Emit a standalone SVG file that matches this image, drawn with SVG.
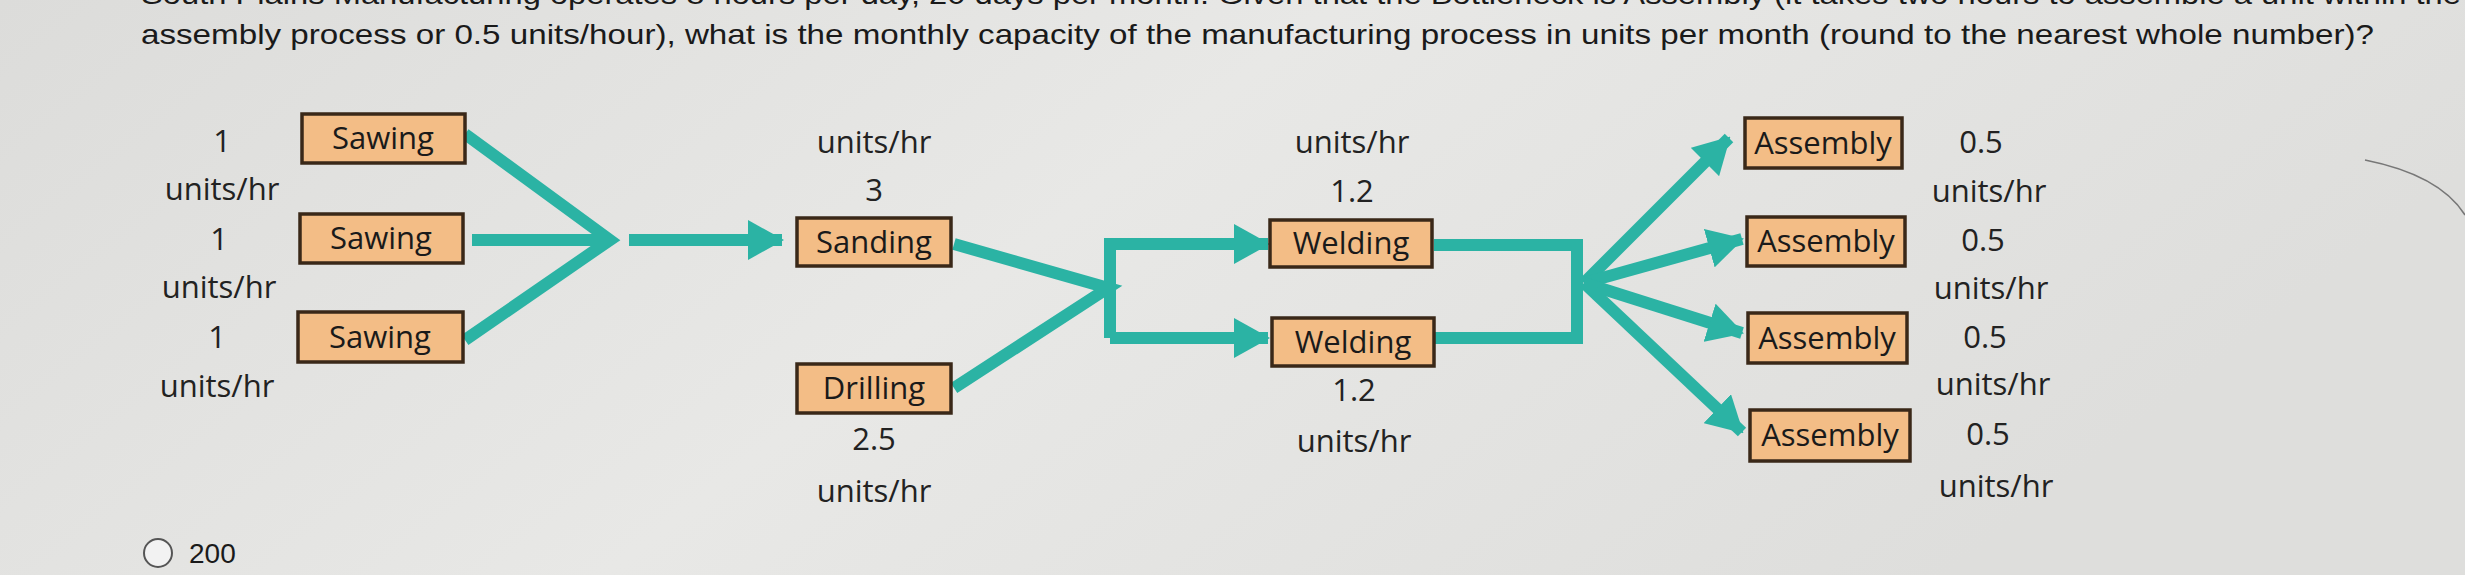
<svg xmlns="http://www.w3.org/2000/svg" width="2465" height="575" viewBox="0 0 2465 575">
<defs>
<linearGradient id="bg" x1="0" y1="0" x2="1" y2="0.3">
<stop offset="0" stop-color="#dcdcda"/><stop offset="0.5" stop-color="#e8e8e6"/><stop offset="1" stop-color="#dededc"/>
</linearGradient>
<marker id="ah" markerUnits="userSpaceOnUse" markerWidth="36" markerHeight="40" refX="34" refY="20" orient="auto">
<path d="M0,0 L36,20 L0,40 Z" fill="#2bb3a4"/>
</marker>
<style>
.t{font-family:"Open Sans","Noto Sans",sans-serif;font-size:31px;font-weight:500;fill:#222;text-anchor:middle}
.q{font-family:"Liberation Sans",Arial,sans-serif;font-size:28px;fill:#1a1a1a}
.b{fill:#f3bd86;stroke:#3a2818;stroke-width:3.5}
.bt{font-family:"Open Sans","Noto Sans",sans-serif;font-size:31px;font-weight:500;fill:#1a1a1a;text-anchor:middle}
.c{fill:none;stroke:#2bb3a4;stroke-width:12}
</style>
</defs>
<rect width="2465" height="575" fill="url(#bg)"/>
<text class="q" x="141" y="4" textLength="2320" lengthAdjust="spacingAndGlyphs">South Plains Manufacturing operates 8 hours per day, 20 days per month. Given that the Bottleneck is Assembly (it takes two hours to assemble a unit within the</text>
<text class="q" x="141" y="44" textLength="2233" lengthAdjust="spacingAndGlyphs">assembly process or 0.5 units/hour), what is the monthly capacity of the manufacturing process in units per month (round to the nearest whole number)?</text>
<path d="M2365,160 Q2440,175 2465,215" fill="none" stroke="#777" stroke-width="1.5"/>
<g id="connectors">
<path class="c" d="M465,134 L610,240 L465,340"/>
<path class="c" d="M472,240 L610,240"/>
<path class="c" d="M629,240 L782,240" marker-end="url(#ah)"/>
<path class="c" d="M954,244 L1108,288 L954,388"/>
<path class="c" d="M1110,338 L1110,244 L1268,244" marker-end="url(#ah)"/>
<path class="c" d="M1110,338 L1268,338" marker-end="url(#ah)"/>
<path class="c" d="M1434,245 L1577,245 L1577,338 L1434,338"/>
<path class="c" d="M1584,283 L1729,138" marker-end="url(#ah)"/>
<path class="c" d="M1584,283 L1742,239" marker-end="url(#ah)"/>
<path class="c" d="M1584,283 L1742,333" marker-end="url(#ah)"/>
<path class="c" d="M1584,283 L1742,432" marker-end="url(#ah)"/>
</g>
<g id="sawing1"><rect class="b" x="302" y="114" width="163" height="49"/><text class="bt" x="383" y="149">Sawing</text></g>
<g id="sawing2"><rect class="b" x="300" y="214" width="163" height="49"/><text class="bt" x="381" y="249">Sawing</text></g>
<g id="sawing3"><rect class="b" x="298" y="312" width="165" height="50"/><text class="bt" x="380" y="348">Sawing</text></g>
<g id="sanding"><rect class="b" x="797" y="218" width="154" height="48"/><text class="bt" x="874" y="253">Sanding</text></g>
<g id="drilling"><rect class="b" x="797" y="364" width="154" height="49"/><text class="bt" x="874" y="399">Drilling</text></g>
<g id="welding1"><rect class="b" x="1270" y="220" width="162" height="47"/><text class="bt" x="1351" y="254">Welding</text></g>
<g id="welding2"><rect class="b" x="1272" y="318" width="162" height="48"/><text class="bt" x="1353" y="353">Welding</text></g>
<g id="assembly1"><rect class="b" x="1745" y="118" width="157" height="50"/><text class="bt" x="1823" y="154">Assembly</text></g>
<g id="assembly2"><rect class="b" x="1747" y="217" width="158" height="49"/><text class="bt" x="1826" y="252">Assembly</text></g>
<g id="assembly3"><rect class="b" x="1748" y="313" width="159" height="50"/><text class="bt" x="1827" y="349">Assembly</text></g>
<g id="assembly4"><rect class="b" x="1750" y="410" width="160" height="51"/><text class="bt" x="1830" y="446">Assembly</text></g>
<g id="labels">
<text class="t" x="222" y="152">1</text>
<text class="t" x="222" y="200">units/hr</text>
<text class="t" x="219" y="250">1</text>
<text class="t" x="219" y="298">units/hr</text>
<text class="t" x="217" y="348">1</text>
<text class="t" x="217" y="397">units/hr</text>
<text class="t" x="874" y="153">units/hr</text>
<text class="t" x="874" y="201">3</text>
<text class="t" x="874" y="450">2.5</text>
<text class="t" x="874" y="502">units/hr</text>
<text class="t" x="1352" y="153">units/hr</text>
<text class="t" x="1352" y="202">1.2</text>
<text class="t" x="1354" y="401">1.2</text>
<text class="t" x="1354" y="452">units/hr</text>
<text class="t" x="1981" y="153">0.5</text>
<text class="t" x="1989" y="202">units/hr</text>
<text class="t" x="1983" y="251">0.5</text>
<text class="t" x="1991" y="299">units/hr</text>
<text class="t" x="1985" y="348">0.5</text>
<text class="t" x="1993" y="395">units/hr</text>
<text class="t" x="1988" y="445">0.5</text>
<text class="t" x="1996" y="497">units/hr</text>
</g>
<g id="option">
<circle cx="158" cy="553" r="14" fill="#f2f2f2" stroke="#555" stroke-width="2"/>
<text class="q" x="189" y="563">200</text>
</g>
</svg>
